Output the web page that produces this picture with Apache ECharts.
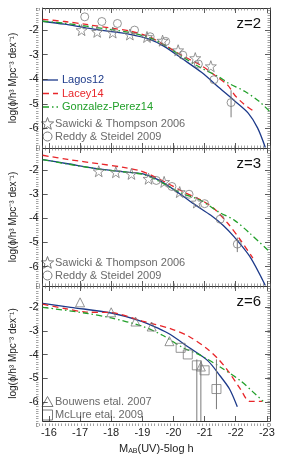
<!DOCTYPE html>
<html><head><meta charset="utf-8">
<script src="https://cdn.jsdelivr.net/npm/echarts@6/dist/echarts.min.js"></script>
<style>html,body{margin:0;padding:0;background:#fff}#c{width:281px;height:456px}</style>
</head><body><div id="c"></div>
<script>
// ---- data ----
const xTickLabels = [-16, -17, -18, -19, -20, -21, -22, -23];
const yTickLabels = [-2, -3, -4, -5, -6];
const panelLabels = ['z=2', 'z=3', 'z=6'];

const lagosZ2 = [[-15.8,-1.64],[-16.5,-1.76],[-17.2,-1.91],[-18.0,-2.06],[-18.6,-2.17],[-19.2,-2.36],[-19.7,-2.66],[-20.3,-3.18],[-20.9,-3.72],[-21.5,-4.38],[-21.95,-4.87],[-22.4,-5.38],[-22.7,-5.98],[-22.95,-6.78]];
const laceyZ2 = [[-15.8,-1.56],[-16.5,-1.65],[-17.2,-1.77],[-18.0,-1.92],[-18.6,-2.04],[-19.2,-2.26],[-19.7,-2.6],[-20.3,-3.05],[-20.9,-3.45],[-21.35,-3.86],[-21.75,-4.25],[-21.95,-4.62],[-22.25,-5.0],[-22.6,-5.32]];
const gonzZ2 = [[-15.8,-1.64],[-16.5,-1.72],[-17.2,-1.84],[-18.0,-1.98],[-18.6,-2.1],[-19.2,-2.3],[-19.7,-2.6],[-20.3,-3.1],[-20.9,-3.55],[-21.45,-3.9],[-21.75,-4.15],[-22.3,-4.5],[-22.75,-4.9],[-23.08,-5.3]];
const sawickiZ2 = [[-17.05,-2.0],[-17.55,-2.07],[-18.05,-2.1],[-18.6,-2.18],[-19.15,-2.28],[-19.65,-2.43],[-20.15,-2.82],[-20.7,-3.14],[-21.2,-3.47]];
const reddyZ2 = [[-17.15,-1.46],[-17.7,-1.65],[-18.2,-1.73],[-18.75,-2.0],[-19.25,-2.27],[-19.75,-2.46],[-20.3,-3.02],[-20.8,-3.38],[-21.3,-4.02],[-21.85,-4.95]];
const errZ2 = [[-21.85,-4.45,-5.55]];

const lagosZ3 = [[-15.8,-1.58],[-16.6,-1.75],[-17.6,-1.96],[-18.5,-2.1],[-19.05,-2.18],[-19.55,-2.44],[-20.2,-2.99],[-20.7,-3.45],[-21.2,-3.88],[-21.6,-4.3],[-21.95,-4.77],[-22.45,-5.58],[-22.95,-6.78]];
const laceyZ3 = [[-15.8,-1.4],[-16.6,-1.57],[-17.6,-1.75],[-18.4,-1.9],[-18.9,-2.03],[-19.3,-2.23],[-19.8,-2.55],[-20.3,-2.9],[-20.9,-3.26],[-21.3,-3.6],[-21.75,-4.22],[-22.15,-4.9],[-22.55,-5.65]];
const gonzZ3 = [[-15.8,-1.58],[-16.6,-1.76],[-17.6,-1.97],[-18.5,-2.1],[-19.05,-2.2],[-19.55,-2.48],[-20.2,-2.93],[-20.9,-3.28],[-21.45,-3.74],[-21.95,-4.08],[-22.45,-4.62],[-23.08,-5.38]];
const sawickiZ3 = [[-17.6,-2.06],[-18.15,-2.1],[-18.65,-2.17],[-19.2,-2.37],[-19.7,-2.5],[-20.2,-2.92],[-20.75,-3.35]];
const reddyZ3 = [[-19.45,-2.44],[-19.95,-2.69],[-20.5,-3.01],[-21.0,-3.4],[-21.5,-4.04],[-22.05,-5.07]];
const errZ3 = [[-22.05,-4.8,-5.4]];

const lagosZ6 = [[-15.8,-1.83],[-16.7,-2.0],[-18.0,-2.24],[-19.0,-2.6],[-19.5,-2.88],[-19.9,-3.15],[-20.5,-3.7],[-21.1,-4.25],[-21.5,-4.9],[-21.8,-5.45],[-22.05,-6.2]];
const laceyZ6 = [[-15.8,-1.87],[-16.5,-2.05],[-17.2,-2.2],[-18.0,-2.22],[-19.0,-2.58],[-19.4,-2.72],[-19.9,-2.9],[-20.5,-3.23],[-21.1,-3.77],[-21.45,-4.2],[-21.75,-4.68],[-22.15,-5.45],[-22.45,-5.97],[-22.85,-5.97]];
const gonzZ6 = [[-15.8,-2.0],[-17.2,-2.25],[-18.0,-2.45],[-19.0,-2.8],[-19.65,-3.18],[-20.3,-3.7],[-20.9,-4.05],[-21.5,-4.52],[-22.15,-5.1],[-22.55,-5.57],[-22.88,-5.97]];
const bouwensZ6 = [[-17.0,-1.79],[-18.0,-2.21],[-18.78,-2.6],[-19.3,-2.81],[-19.87,-3.43],[-20.88,-4.5]];
const mclureZ6 = [[-20.23,-3.71],[-20.46,-3.99],[-20.75,-4.45],[-21.0,-4.66],[-21.38,-5.45]];
const errZ6 = [[-20.75,-4.2,-6.8],[-20.88,-4.25,-6.8],[-21.38,-4.2,-6.3]];

// ---- styling ----
const C_LAGOS = '#1d3a8a', C_LACEY = '#e8262a', C_GONZ = '#22a02a', C_OBS = '#7a7a7a';
const FONT = 'Liberation Sans';
const STAR = 'path://M0,-10L2.35,-3.24L9.51,-3.09L3.8,1.24L5.88,8.09L0,4L-5.88,8.09L-3.8,1.24L-9.51,-3.09L-2.35,-3.24Z';
const X_MIN = -23.1, X_MAX = -15.8, Y_MIN = -6.8, Y_MAX = -1.1;
const panelBoxes = [
  {left: 36, right: 11, top: 8, height: 140},
  {left: 36, right: 11, top: 148, height: 138},
  {left: 36, right: 11, top: 286, height: 140}
];
function steps(a, b) { const out = []; for (let k = Math.ceil(a * 10); k <= Math.floor(b * 10); k++) out.push(k / 10); return out; }
const xMinor = steps(X_MIN, X_MAX), yMinor = steps(Y_MIN, Y_MAX);

const grids = panelBoxes.concat(panelBoxes);
const axLine = {show: true, onZero: false, lineStyle: {color: '#333', width: 1}};
const majTick = vals => ({show: true, inside: true, length: 5, customValues: vals, lineStyle: {color: '#333', width: 0.8}});
const minTick = vals => ({show: true, inside: true, length: 2.5, customValues: vals, lineStyle: {color: '#666', width: 0.6}});
const lblStyle = {fontFamily: FONT, fontSize: 11, color: '#222'};

const xAxes = [], yAxes = [];
grids.forEach((g, gi) => {
  const isMinor = gi >= 3, i = gi % 3, last = i === 2;
  ['bottom', 'top'].forEach(pos => {
    const showLbl = !isMinor && last && pos === 'bottom';
    xAxes.push({
      gridIndex: gi, type: 'value', min: X_MIN, max: X_MAX, inverse: true, position: pos,
      axisLine: isMinor ? {show: false} : axLine,
      axisTick: isMinor ? minTick(xMinor) : majTick(xTickLabels),
      splitLine: {show: false},
      axisLabel: Object.assign({show: showLbl, customValues: xTickLabels, margin: 6}, lblStyle),
      name: showLbl ? 'M{s|AB}(UV)-5log h' : '',
      nameLocation: 'middle', nameGap: 21,
      nameTextStyle: {fontFamily: FONT, fontSize: 11, color: '#222', rich: {s: {fontSize: 7, verticalAlign: 'bottom', padding: [6, 0, 0, 0], fontFamily: FONT, color: '#222'}}}
    });
  });
  ['left', 'right'].forEach(pos => {
    const showLbl = !isMinor && pos === 'left';
    yAxes.push({
      gridIndex: gi, type: 'value', min: Y_MIN, max: Y_MAX, position: pos,
      axisLine: isMinor ? {show: false} : axLine,
      axisTick: isMinor ? minTick(yMinor) : majTick(yTickLabels),
      splitLine: {show: false},
      axisLabel: Object.assign({show: showLbl, customValues: yTickLabels, margin: 4}, lblStyle),
      name: showLbl ? 'log(ϕ/h³ Mpc⁻³ dex⁻¹)' : '',
      nameLocation: 'middle', nameGap: 19, nameRotate: 90,
      nameTextStyle: {fontFamily: FONT, fontSize: 10, color: '#222'}
    });
  });
});

function lineS(name, data, i, color, type) {
  return {name, type: 'line', data, xAxisIndex: i * 2, yAxisIndex: i * 2, symbol: 'none', smooth: 0.3,
    lineStyle: {color, width: 1.3, type}, itemStyle: {color}, z: 3, silent: true, animation: false};
}
function ptS(name, data, i, symbol, size) {
  return {name, type: 'scatter', data, xAxisIndex: i * 2, yAxisIndex: i * 2, symbol, symbolSize: size,
    itemStyle: {color: 'rgba(255,255,255,0)', borderColor: C_OBS, borderWidth: 1}, z: 4, animation: false};
}
function errS(data, i) {
  return {type: 'custom', data, xAxisIndex: i * 2, yAxisIndex: i * 2, z: 4, animation: false,
    renderItem: (p, api) => {
      const a = api.coord([api.value(0), api.value(1)]);
      const b = api.coord([api.value(0), api.value(2)]);
      return {type: 'line', shape: {x1: a[0], y1: a[1], x2: b[0], y2: b[1]}, style: {stroke: C_OBS, lineWidth: 1}};
    }};
}
const DASH = [6, 4], DASHDOT = [6, 3, 1.5, 3];
const series = [
  lineS('Lagos12', lagosZ2, 0, C_LAGOS, 'solid'),
  lineS('Lacey14', laceyZ2, 0, C_LACEY, DASH),
  lineS('Gonzalez-Perez14', gonzZ2, 0, C_GONZ, DASHDOT),
  ptS('Sawicki & Thompson 2006', sawickiZ2, 0, STAR, 11),
  ptS('Reddy & Steidel 2009', reddyZ2, 0, 'circle', 8),
  errS(errZ2, 0),
  lineS('Lagos12', lagosZ3, 1, C_LAGOS, 'solid'),
  lineS('Lacey14', laceyZ3, 1, C_LACEY, DASH),
  lineS('Gonzalez-Perez14', gonzZ3, 1, C_GONZ, DASHDOT),
  ptS('Sawicki & Thompson 2006', sawickiZ3, 1, STAR, 11),
  ptS('Reddy & Steidel 2009', reddyZ3, 1, 'circle', 8),
  errS(errZ3, 1),
  lineS('Lagos12', lagosZ6, 2, C_LAGOS, 'solid'),
  lineS('Lacey14', laceyZ6, 2, C_LACEY, DASH),
  lineS('Gonzalez-Perez14', gonzZ6, 2, C_GONZ, DASHDOT),
  ptS('Bouwens etal. 2007', bouwensZ6, 2, 'triangle', 9),
  ptS('McLure etal. 2009', mclureZ6, 2, 'rect', 9),
  errS(errZ6, 2)
];

// ---- legend keys (graphic) ----
const graphic = [];
const keyFont = '11px "Liberation Sans"';
[
  {name: 'Lagos12', color: C_LAGOS, dash: null},
  {name: 'Lacey14', color: C_LACEY, dash: DASH},
  {name: 'Gonzalez-Perez14', color: C_GONZ, dash: DASHDOT}
].forEach((k, j) => {
  const y = 80 + j * 13.5;
  graphic.push({type: 'line', shape: {x1: 43, y1: y, x2: 58, y2: y}, style: {stroke: k.color, lineWidth: 1.3, lineDash: k.dash}, silent: true});
  graphic.push({type: 'text', x: 62, y: y, style: {text: k.name, fill: k.color, font: keyFont, textVerticalAlign: 'middle'}, silent: true});
});
function starPts(cx, cy, R, r) {
  const p = [];
  for (let k = 0; k < 10; k++) { const a = -Math.PI / 2 + k * Math.PI / 5, rr = k % 2 ? r : R; p.push([cx + rr * Math.cos(a), cy + rr * Math.sin(a)]); }
  return p;
}
function keyIcon(kind, cx, cy) {
  const st = {fill: 'none', stroke: C_OBS, lineWidth: 1};
  if (kind === 'star') return {type: 'polygon', shape: {points: starPts(cx, cy, 6.5, 2.7)}, style: st, silent: true};
  if (kind === 'circle') return {type: 'circle', shape: {cx, cy, r: 4.5}, style: st, silent: true};
  if (kind === 'triangle') return {type: 'polygon', shape: {points: [[cx, cy - 5.5], [cx + 5.5, cy + 4.5], [cx - 5.5, cy + 4.5]]}, style: st, silent: true};
  return {type: 'rect', shape: {x: cx - 5, y: cy - 5, width: 10, height: 10}, style: st, silent: true};
}
[
  [124, 'star', 'Sawicki & Thompson 2006'], [136.5, 'circle', 'Reddy & Steidel 2009'],
  [263, 'star', 'Sawicki & Thompson 2006'], [275.5, 'circle', 'Reddy & Steidel 2009'],
  [402, 'triangle', 'Bouwens etal. 2007'], [415, 'rect', 'McLure etal. 2009']
].forEach(([y, kind, text]) => {
  graphic.push(keyIcon(kind, 47.5, y));
  graphic.push({type: 'text', x: 55, y, style: {text, fill: '#6a6a6a', font: keyFont, textVerticalAlign: 'middle'}, silent: true});
});

const title = panelLabels.map((t, i) => ({text: t, right: 15, top: panelBoxes[i].top + 3,
  textStyle: {fontFamily: FONT, fontSize: 15, fontWeight: 'normal', color: '#111'}}));

const chart = echarts.init(document.getElementById('c'), null, {renderer: 'canvas'});
chart.setOption({animation: false, backgroundColor: '#fff', title, graphic, grid: grids, xAxis: xAxes, yAxis: yAxes, series});
</script></body></html>
